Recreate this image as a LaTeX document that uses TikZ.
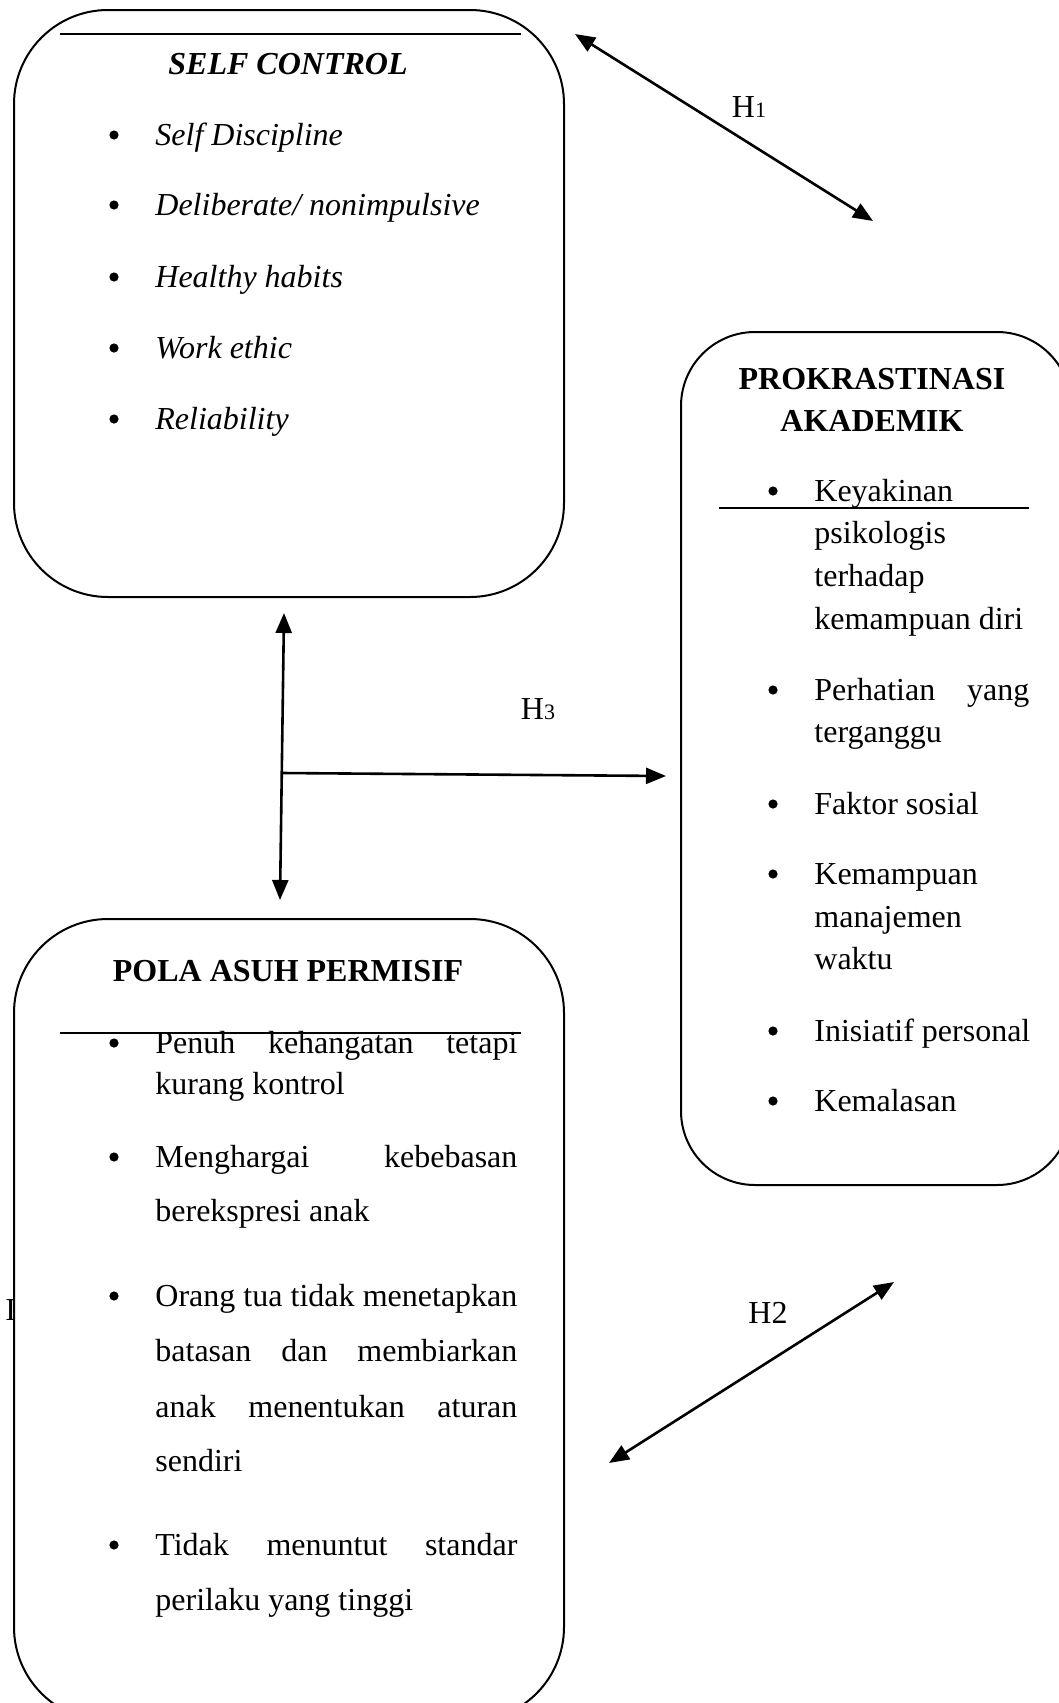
\documentclass[tikz,border=0pt]{standalone}
\usepackage{fontspec}
\setmainfont{Liberation Serif}
\usetikzlibrary{arrows.meta}
\begin{document}
\begin{tikzpicture}[x=0.5pt,y=-0.5pt,
  boxa/.style={draw, line width=1pt, rounded corners=47pt, inner sep=0pt, anchor=north west},
  boxb/.style={draw, line width=1pt, rounded corners=37pt, inner sep=0pt, anchor=north west},
  txt/.style={anchor=base west, inner sep=0pt, font=\fontsize{16}{16}\selectfont},
  ttl/.style={anchor=base, inner sep=0pt, font=\fontsize{16}{16}\selectfont\bfseries},
  bul/.style={circle, fill=black, inner sep=0pt, minimum size=4.6pt},
  lab/.style={anchor=base, inner sep=0pt, font=\fontsize{16}{16}\selectfont},
  rule/.style={line width=0.8pt},
  arr/.style={line width=1.3pt, {Triangle[length=10pt,width=8pt]}-{Triangle[length=10pt,width=8pt]}},
  arrone/.style={line width=1.3pt, -{Triangle[length=10pt,width=8pt]}}
]
\useasboundingbox (0,0) rectangle (1059,1703);
\clip (0,0) rectangle (1059,1703);
\fill[white] (0,0) rectangle (1059,1703);

% stray glyph at left edge
\node[txt] (stray) at (5,1320) {I};

% boxes
\node[boxa, minimum width=275pt, minimum height=293.5pt] (sc) at (13,9) {};
\node[boxb, minimum width=195pt, minimum height=426.5pt] (pa) at (680,331) {};
\node[boxa, fill=white, minimum width=275pt, minimum height=401pt] (pp) at (13,918) {};

% rules
\draw[rule] (60,34) -- (521,34);
\draw[rule] (719,508) -- (1029,508);
\draw[rule] (60,1033) -- (521,1033);

% SELF CONTROL
\node[ttl, font=\fontsize{16}{16}\selectfont\bfseries\itshape] (sct) at (288,74) {SELF CONTROL};
\foreach \y/\t [count=\i] in {145/{Self Discipline},215/{Deliberate/ nonimpulsive},287/{Healthy habits},358/{Work ethic},429/{Reliability}}{
  \node[bul] (scb\i) at (114,\y-10) {};
  \node[txt, font=\fontsize{16}{16}\selectfont\itshape] (sci\i) at (155,\y) {\t};
}

% PROKRASTINASI AKADEMIK
\node[ttl] (pat1) at (872,389) {PROKRASTINASI};
\node[ttl] (pat2) at (872,431) {AKADEMIK};
\node[bul] (pab1) at (773,491) {};
\node[txt] (pal1) at (814,501) {Keyakinan};
\node[txt] (pal2) at (814,543) {psikologis};
\node[txt] (pal3) at (814,586) {terhadap};
\node[txt] (pal4) at (814,629) {kemampuan diri};
\node[bul] (pab2) at (773,690) {};
\node[txt] (pal5) at (814,700) {\makebox[107.5pt][s]{Perhatian\hfill yang}};
\node[txt] (pal6) at (814,742) {terganggu};
\node[bul] (pab3) at (773,804) {};
\node[txt] (pal7) at (814,814) {Faktor sosial};
\node[bul] (pab4) at (773,874) {};
\node[txt] (pal8) at (814,884) {Kemampuan};
\node[txt] (pal9) at (814,927) {manajemen};
\node[txt] (pal10) at (814,969) {waktu};
\node[bul] (pab5) at (773,1031) {};
\node[txt] (pal11) at (814,1041) {Inisiatif personal};
\node[bul] (pab6) at (773,1101) {};
\node[txt] (pal12) at (814,1111) {Kemalasan};

% POLA ASUH PERMISIF
\node[ttl] (ppt) at (288,981) {POLA ASUH PERMISIF};
\node[bul] (ppb1) at (114,1043) {};
\node[txt] (ppl1) at (155,1053) {\makebox[181pt][s]{Penuh\hfill kehangatan\hfill tetapi}};
\node[txt] (ppl2) at (155,1094) {kurang kontrol};
\node[bul] (ppb2) at (114,1157) {};
\node[txt] (ppl3) at (155,1167) {\makebox[181pt][s]{Menghargai\hfill kebebasan}};
\node[txt] (ppl4) at (155,1221) {berekspresi anak};
\node[bul] (ppb3) at (114,1296) {};
\node[txt] (ppl5) at (155,1306) {\makebox[181pt][s]{Orang\hfill tua\hfill tidak\hfill menetapkan}};
\node[txt] (ppl6) at (155,1361) {\makebox[181pt][s]{batasan\hfill dan\hfill membiarkan}};
\node[txt] (ppl7) at (155,1417) {\makebox[181pt][s]{anak\hfill menentukan\hfill aturan}};
\node[txt] (ppl8) at (155,1471) {sendiri};
\node[bul] (ppb4) at (114,1545) {};
\node[txt] (ppl9) at (155,1555) {\makebox[181pt][s]{Tidak\hfill menuntut\hfill standar}};
\node[txt] (ppl10) at (155,1610) {perilaku yang tinggi};

% connectors
\coordinate (h1a) at (575,34);
\coordinate (h1b) at (873,221);
\draw[arr] (h1a) -- (h1b);
\node[lab] (h1) at (749,117) {H{\fontsize{11}{11}\selectfont 1}};

\coordinate (h2a) at (609,1463);
\coordinate (h2b) at (894,1282);
\draw[arr] (h2a) -- (h2b);
\node[lab] (h2) at (768,1323) {H2};

\coordinate (vt) at (284,613);
\coordinate (vb) at (280,900);
\coordinate (vj) at (282,773);
\coordinate (ht) at (666,776);
\draw[arr] (vt) -- (vb);
\draw[arrone] (vj) -- (ht);
\node[lab] (h3) at (538,719) {H{\fontsize{11}{11}\selectfont 3}};
\end{tikzpicture}
\end{document}
